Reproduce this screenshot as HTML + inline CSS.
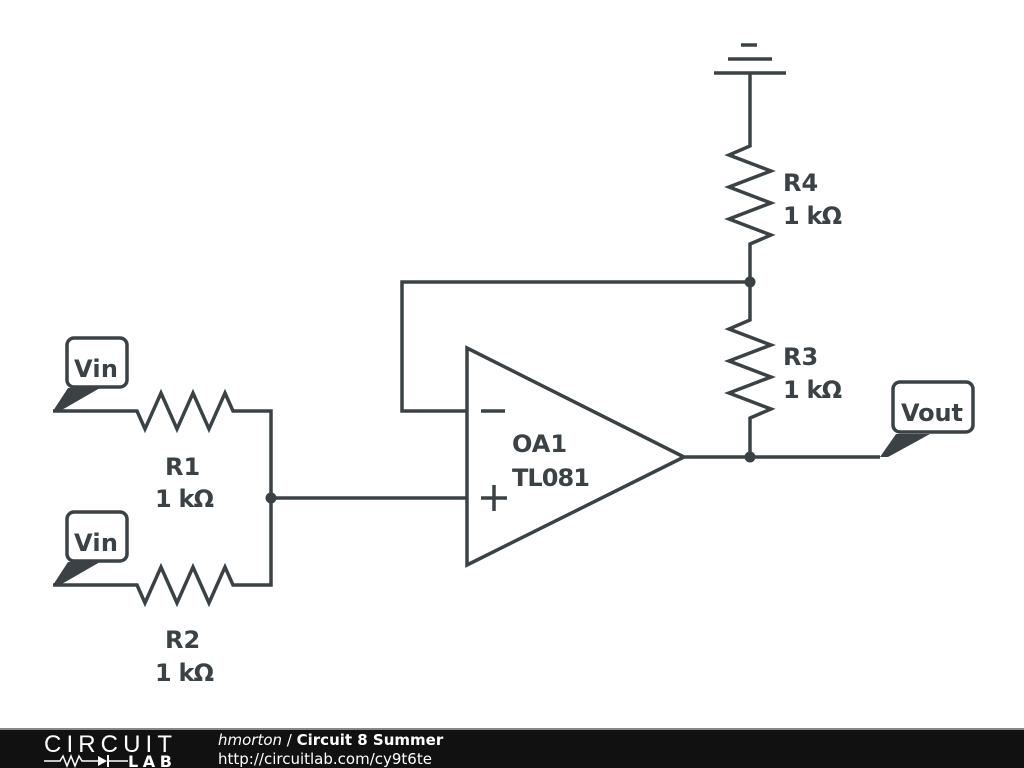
<!DOCTYPE html>
<html><head><meta charset="utf-8"><style>
body{margin:0;width:1024px;height:768px;background:#fff;overflow:hidden;font-family:"DejaVu Sans",sans-serif}
</style></head><body>
<svg width="1024" height="768" style="position:absolute;left:0;top:0">
<g stroke="#3b4246" stroke-width="3.5" fill="none" stroke-linejoin="miter">
<line x1="741" y1="45" x2="757" y2="45"/>
<line x1="728" y1="59" x2="772" y2="59"/>
<line x1="714" y1="73" x2="786" y2="73"/>
<polyline points="750,73 750,146 729,155 771,171 729,187 771,203 729,219 771,235 750,244 750,320 729,329 771,345 729,361 771,377 729,393 771,409 750,418 750,457"/>
<polyline points="750,282 402,282 402,411 467,411"/>
<polygon points="467,348 467,565 684,457"/>
<polyline points="684,457 880,457"/>
<polyline points="53,411 137,411 145,429 161,393 177,429 193,393 209,429 225,393 233,411 271,411 271,585 233,585 225,567 209,603 193,567 177,603 161,567 145,603 137,585 53,585"/>
<line x1="271" y1="498" x2="467" y2="498"/>
<line x1="481" y1="411" x2="505" y2="411"/>
<line x1="481" y1="498" x2="507" y2="498"/><line x1="494" y1="485" x2="494" y2="511"/>
<rect x="67" y="338" width="60" height="49" rx="7" fill="#fff"/>
<rect x="67" y="512" width="60" height="49" rx="7" fill="#fff"/>
<rect x="893" y="382" width="80" height="50" rx="7" fill="#fff"/>
</g>
<g fill="#3b4246">
<circle cx="750" cy="282" r="5.5"/><circle cx="750" cy="457" r="5.5"/><circle cx="271" cy="498" r="5.5"/>
<polygon points="53,411 68,388 100,388 60,411"/>
<polygon points="53,585 68,562 100,562 60,585"/>
<polygon points="880,457 896,434 930,434 888,457"/>
</g>
<g fill="#3b4246" font-weight="bold" font-size="24">
<text x="74" y="377" textLength="44">Vin</text><text x="74" y="551" textLength="44">Vin</text><text x="901" y="421" textLength="62">Vout</text>
<text x="165" y="475">R1</text><text x="155" y="507" textLength="59">1 kΩ</text>
<text x="165" y="648">R2</text><text x="155" y="681" textLength="59">1 kΩ</text>
<text x="783" y="191">R4</text><text x="783" y="224" textLength="59">1 kΩ</text>
<text x="783" y="365">R3</text><text x="783" y="398" textLength="59">1 kΩ</text>
<text x="512" y="452">OA1</text><text x="512" y="486" textLength="78">TL081</text>
</g>
<rect x="0" y="729" width="1024" height="39" fill="#111"/>
<rect x="0" y="728" width="1024" height="2" fill="#888"/>
<text x="44" y="752" fill="#fff" font-size="24" textLength="128" style="font-family:'Liberation Sans',sans-serif">CIRCUIT</text>
<polyline points="44,761 60,761 63,756 67,766 71,756 75,766 79,756 82,761 98,761" stroke="#fff" stroke-width="1.5" fill="none"/>
<polygon points="98,756 98,766 107,761" fill="#fff"/><line x1="108" y1="755" x2="108" y2="767" stroke="#fff" stroke-width="2"/>
<line x1="108" y1="761" x2="128" y2="761" stroke="#fff" stroke-width="1.5"/>
<text x="128" y="767" fill="#fff" font-size="16" font-weight="bold" textLength="44">LAB</text>
<text x="218" y="745" fill="#fff" font-size="15"><tspan font-style="italic">hmorton</tspan> / <tspan font-weight="bold">Circuit 8 Summer</tspan></text>
<text x="218" y="764" fill="#fff" font-size="15">http://circuitlab.com/cy9t6te</text>
</svg>
</body></html>
